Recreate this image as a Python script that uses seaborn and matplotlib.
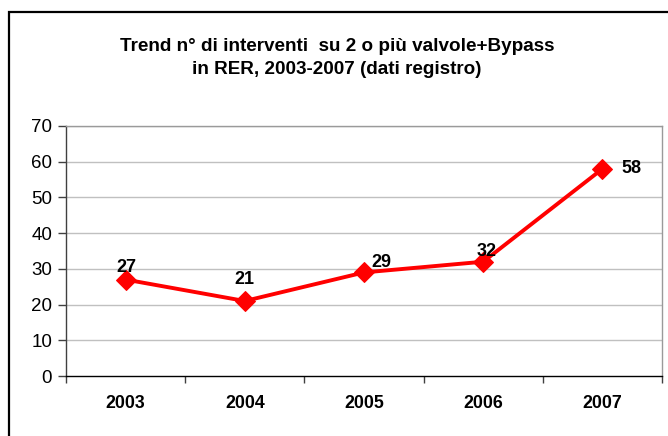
import matplotlib
matplotlib.use("Agg")
import matplotlib.pyplot as plt
import matplotlib.patches as mpatches
import seaborn as sns
import pandas as pd

# Data
years = ["2003", "2004", "2005", "2006", "2007"]
interventions = [27, 21, 29, 32, 58]
y_ticks = [0, 10, 20, 30, 40, 50, 60, 70]
# label offsets in pixels (dx, dy) relative to each point
label_offsets = [(1, 12), (0, 21), (17, 10), (3, 10), (29, 0)]

title = "Trend n° di interventi  su 2 o più valvole+Bypass\nin RER, 2003-2007 (dati registro)"

sns.set_theme(style="white")
plt.rcParams["font.family"] = ["Liberation Sans", "DejaVu Sans"]

df = pd.DataFrame({"year": years, "n": interventions})

fig = plt.figure(figsize=(6.68, 4.36), dpi=100)
ax = fig.add_axes([66 / 668, 60 / 436, 596 / 668, 250 / 436])

sns.lineplot(data=df, x="year", y="n", ax=ax, color="#ff0000", linewidth=2.8,
             marker="D", markersize=10, markeredgecolor="#ff0000", sort=False)

ax.set_xlim(-0.5, len(years) - 0.5)
ax.set_ylim(0, 70)
ax.set_yticks(y_ticks)
ax.set_yticklabels([str(v) for v in y_ticks], fontsize=13.5, color="black")
ax.set_xticks(range(len(years)))
ax.set_xticklabels(years, fontsize=12.8, fontweight="bold", color="black")
ax.set_xlabel("")
ax.set_ylabel("")

# horizontal gridlines
for v in y_ticks[1:]:
    ax.axhline(v, color="#c0c0c0", linewidth=1, zorder=0)

# spines
for side in ["top", "right"]:
    ax.spines[side].set_visible(True)
    ax.spines[side].set_color("#9a9a9a")
    ax.spines[side].set_linewidth(1)
ax.spines["left"].set_color("#404040")
ax.spines["bottom"].set_color("#000000")
ax.spines["left"].set_linewidth(1)
ax.spines["bottom"].set_linewidth(1)

# y ticks outside, x ticks at category boundaries
ax.tick_params(axis="y", which="major", direction="out", length=6, width=1,
               color="#404040", left=True, pad=4)
ax.tick_params(axis="x", which="major", length=0, pad=14)
ax.set_xticks([i + 0.5 for i in range(-1, len(years))], minor=True)
ax.tick_params(axis="x", which="minor", direction="out", length=5, width=1,
               color="#404040", bottom=True)

# value labels
for i, (v, (dx, dy)) in enumerate(zip(interventions, label_offsets)):
    ax.annotate(str(v), xy=(i, v), xytext=(dx, dy), textcoords="offset pixels",
                ha="center", va="center", fontsize=13, fontweight="bold",
                color="black", annotation_clip=False)

# title
fig.text(337 / 668, 1 - 58 / 436, title, ha="center", va="center",
         fontsize=13.6, fontweight="bold", linespacing=1.4, color="black")

# outer chart frame
frame = mpatches.Rectangle((9 / 668, -0.05), 1.0, 1 - 12 / 436 + 0.05,
                           transform=fig.transFigure, fill=False,
                           edgecolor="black", linewidth=1.6, clip_on=False)
fig.patches.append(frame)

fig.savefig("out.png", dpi=100)
